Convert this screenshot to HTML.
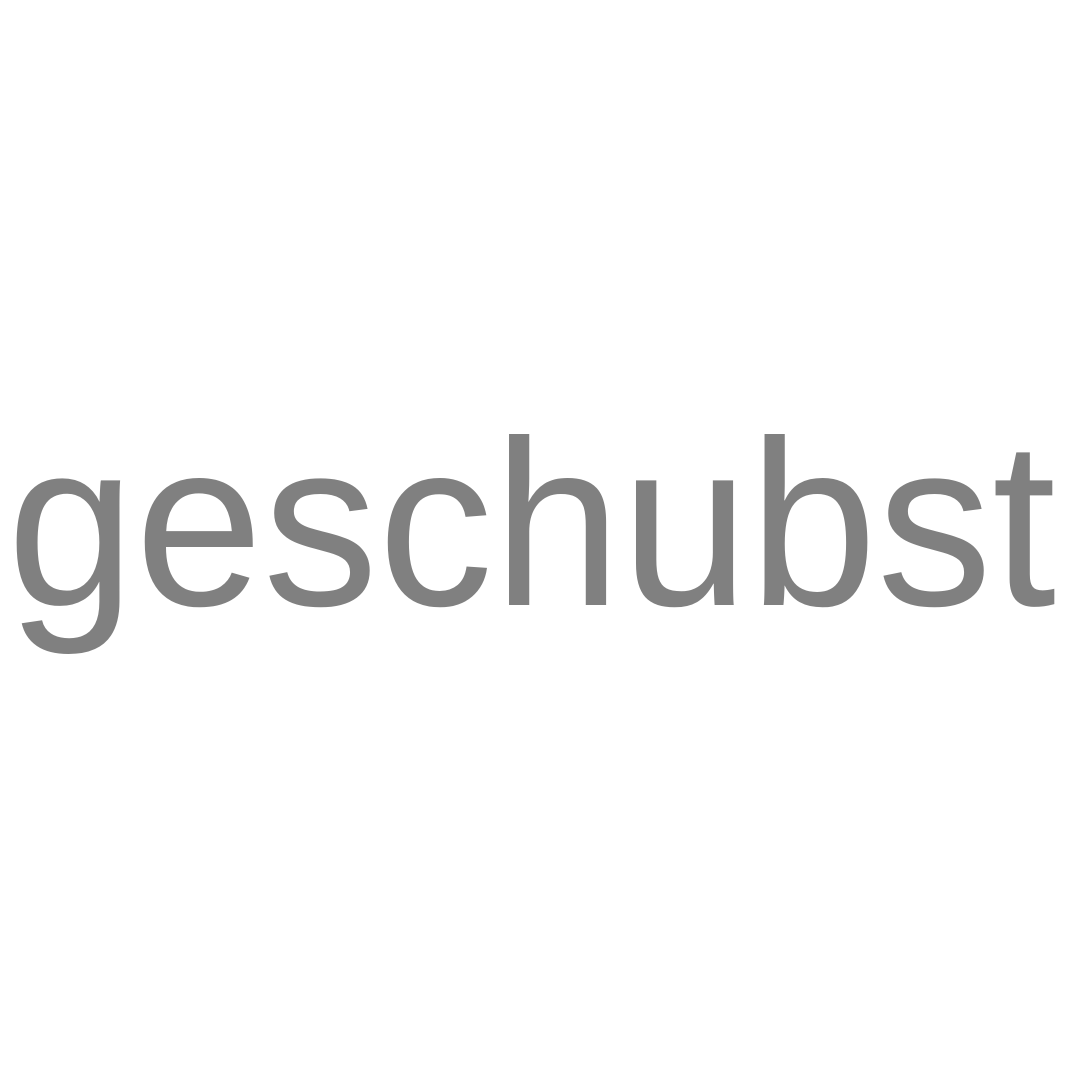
<!DOCTYPE html>
<html>
<head>
<meta charset="utf-8">
<style>
  html,body{margin:0;padding:0;background:#fff;width:1080px;height:1080px;overflow:hidden;}
  svg{display:block;}
</style>
</head>
<body>
<svg width="1080" height="1080" viewBox="0 0 1080 1080">
  <rect x="0" y="0" width="1080" height="1080" fill="#ffffff"/>
  <text x="7" y="605" font-family="'Liberation Sans', Arial, sans-serif" font-size="236" fill="#808080" textLength="1049" lengthAdjust="spacingAndGlyphs">geschubst</text>
</svg>
</body>
</html>
